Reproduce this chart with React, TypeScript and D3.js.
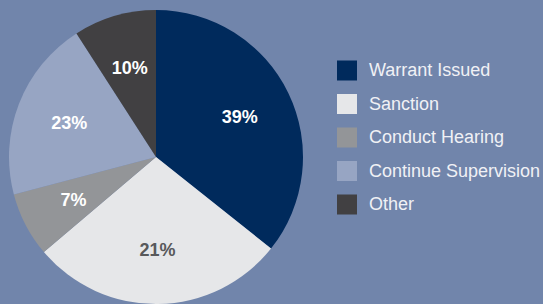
import React from "react";
import * as d3 from "d3";

// slice shares as drawn in the picture, and the printed labels
const categories = ["Warrant Issued", "Sanction", "Conduct Hearing", "Continue Supervision", "Other"];
const shares = [35.7, 28.1, 7.1, 20.0, 9.1];
const pctLabels = ["39%", "21%", "7%", "23%", "10%"];

const colors = ["#002a5c", "#e6e7e9", "#939598", "#97a5c3", "#414042"];
const labelColors = ["#ffffff", "#58595b", "#ffffff", "#ffffff", "#ffffff"];

const width = 543;
const height = 304;
const cx = 156;
const cy = 157;
const radius = 147;

const App = () => {
  const pie = d3
    .pie<number>()
    .sort(null)
    .value((d) => d);
  const arcs = pie(shares);

  const arc = d3.arc<d3.PieArcDatum<number>>().innerRadius(0).outerRadius(radius);
  const labelArc = d3
    .arc<d3.PieArcDatum<number>>()
    .innerRadius(93)
    .outerRadius(93);

  const legendY = d3
    .scaleBand()
    .domain(categories)
    .range([54, 54 + 33.5 * categories.length]);

  return (
    <svg
      width={width}
      height={height}
      style={{ position: "absolute", left: 0, top: 0, display: "block" }}
      fontFamily="'Liberation Sans', Arial, Helvetica, sans-serif"
    >
      <rect width={width} height={height} fill="#7185ab" />
      <g transform={`translate(${cx},${cy})`}>
        {arcs.map((a, i) => (
          <path key={i} d={arc(a) || ""} fill={colors[i]} />
        ))}
        {arcs.map((a, i) => {
          const [x, y] = labelArc.centroid(a);
          return (
            <text
              key={i}
              x={x}
              y={y}
              textAnchor="middle"
              dominantBaseline="central"
              fontSize={18}
              fontWeight="bold"
              fill={labelColors[i]}
            >
              {pctLabels[i]}
            </text>
          );
        })}
      </g>
      <g>
        {categories.map((c, i) => {
          const y = legendY(c) as number;
          return (
            <g key={c}>
              <rect x={337} y={y + 6.5} width={20} height={20} fill={colors[i]} />
              <text
                x={369}
                y={y + 16}
                dominantBaseline="central"
                fontSize={18}
                fill="#f0f1f5"
              >
                {c}
              </text>
            </g>
          );
        })}
      </g>
    </svg>
  );
};

export default App;
